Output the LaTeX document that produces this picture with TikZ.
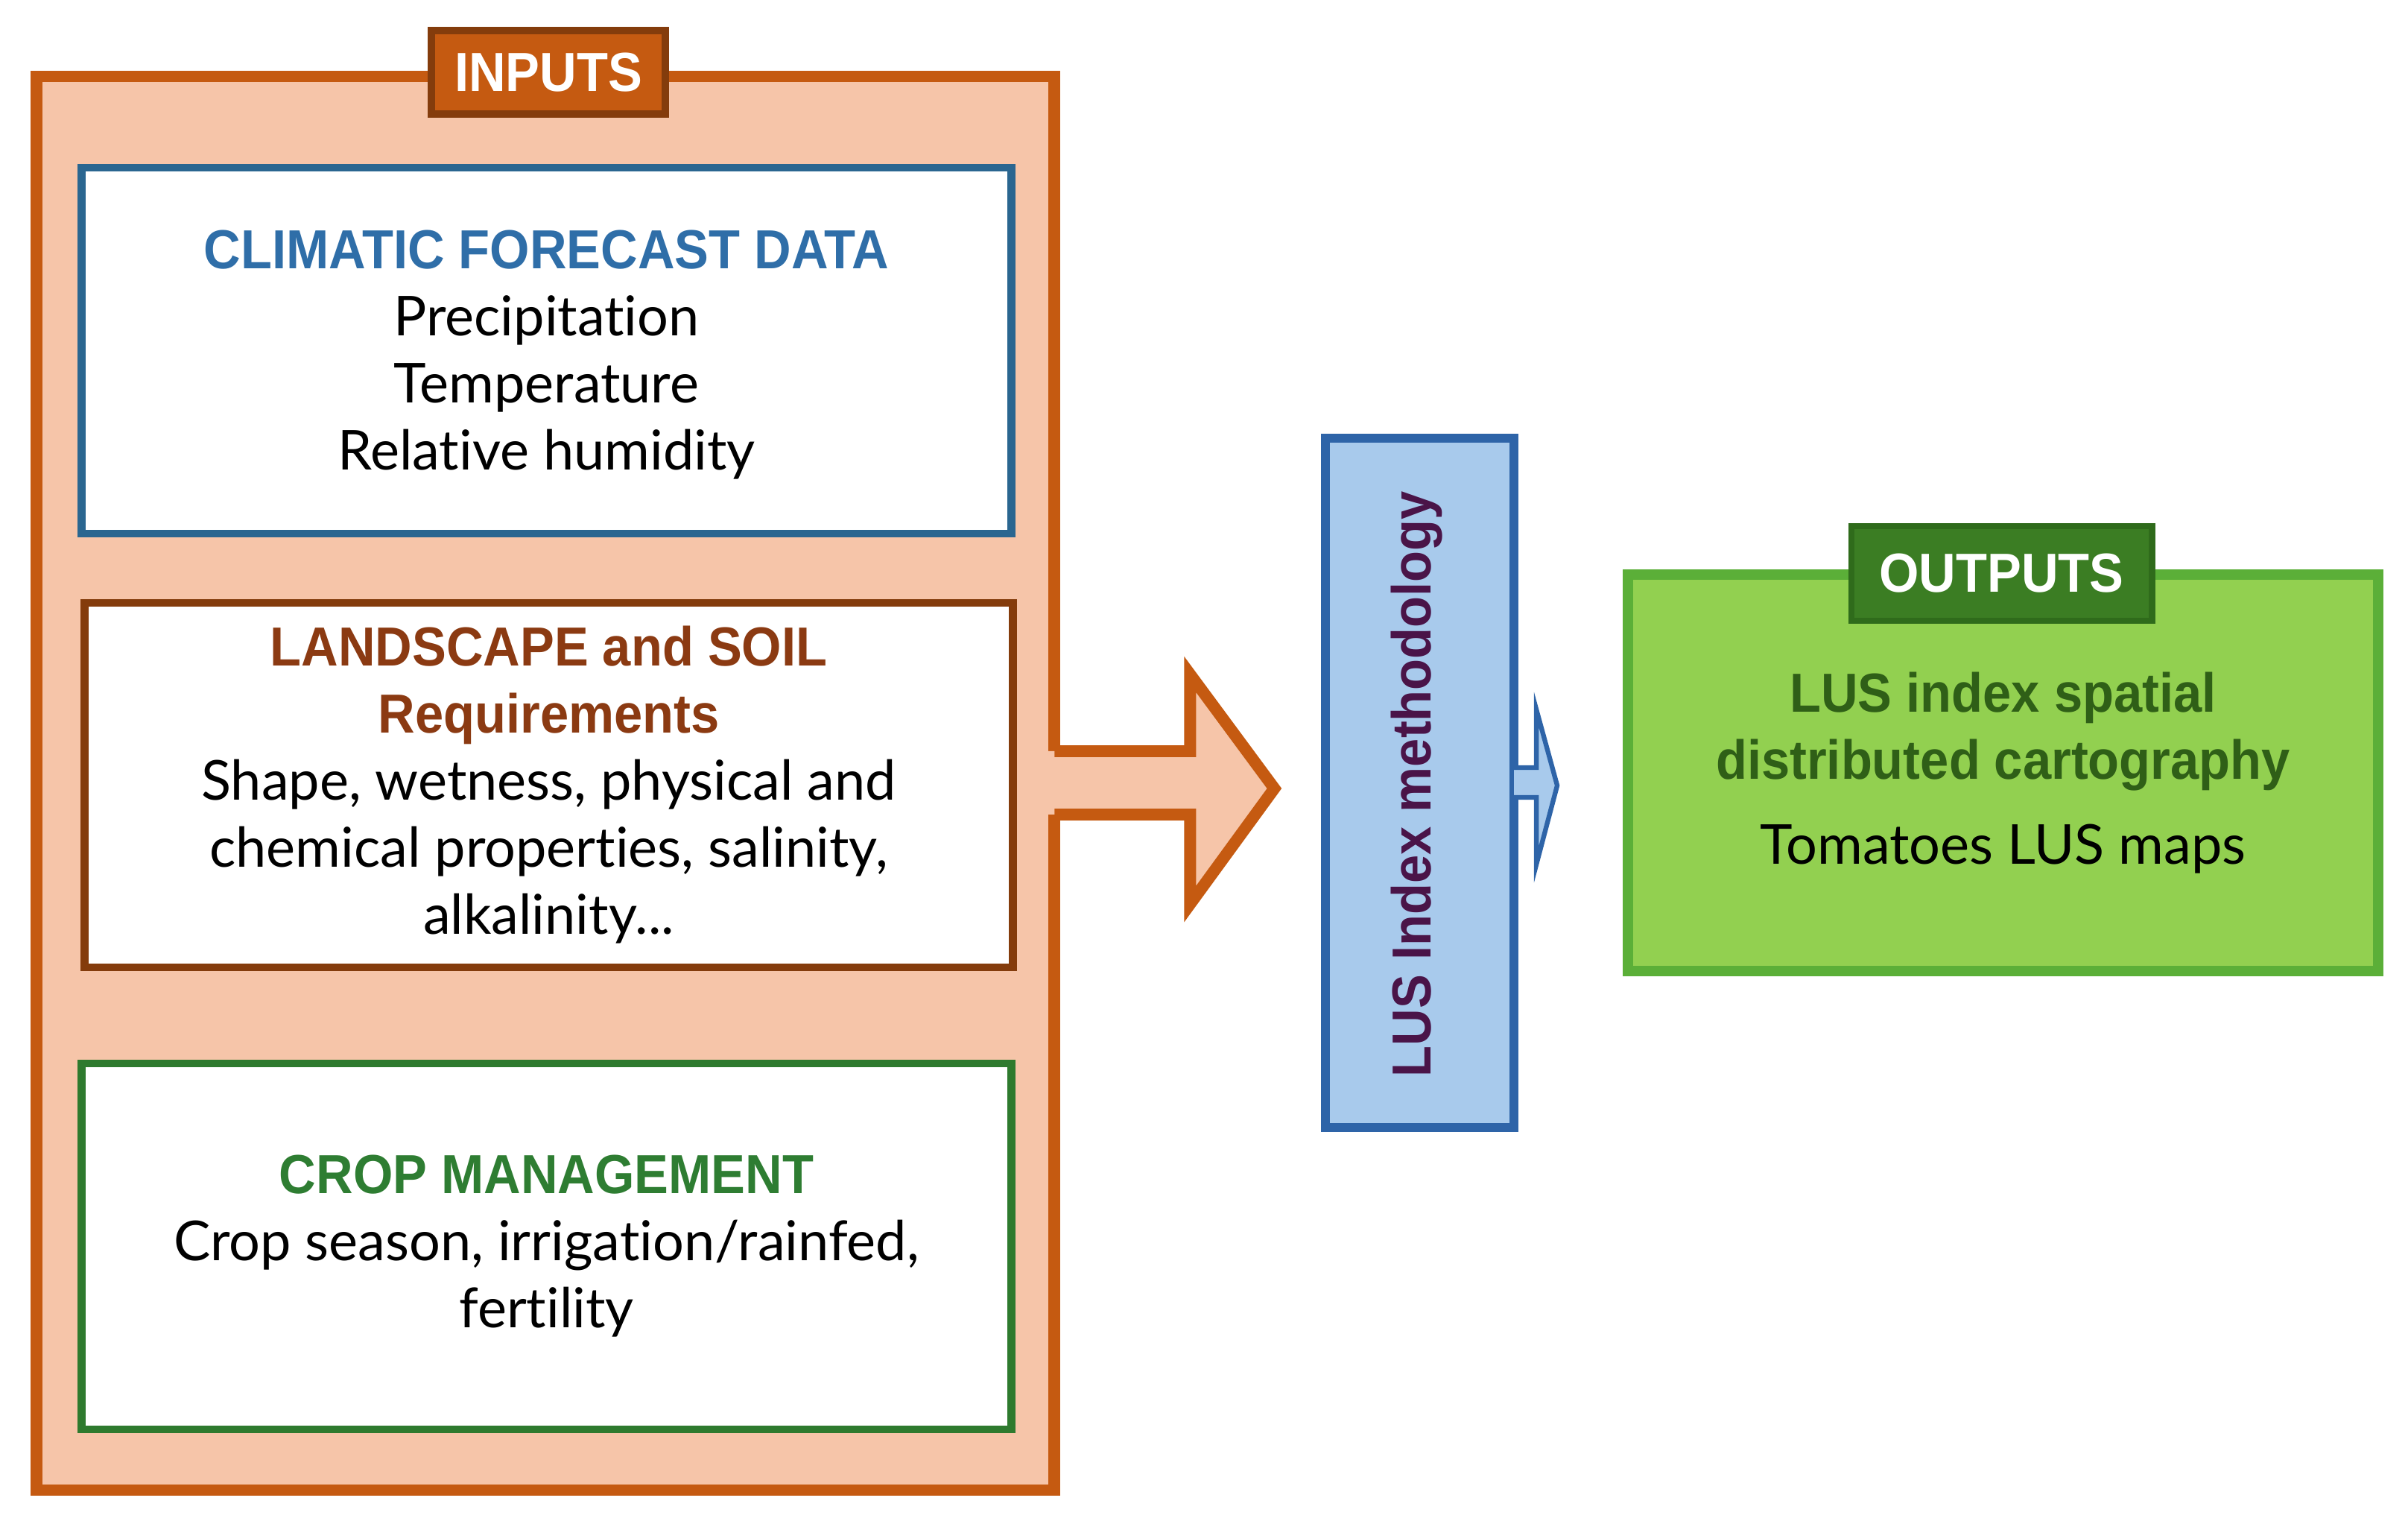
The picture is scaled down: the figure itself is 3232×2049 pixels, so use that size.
\documentclass[tikz,border=0pt]{standalone}
\usepackage{fontspec}
\setmainfont{Lato}[Ligatures=NoCommon]
\newfontfamily\tfont{Liberation Sans}[FakeStretch=0.93]
\definecolor{peach}{HTML}{F6C5A9}
\definecolor{rust}{HTML}{C55A11}
\definecolor{darkrust}{HTML}{843C0C}
\definecolor{climblue}{HTML}{2A6690}
\definecolor{climtitle}{HTML}{2F6EA8}
\definecolor{landtitle}{HTML}{8B3A12}
\definecolor{cropgreen}{HTML}{2E7A2E}
\definecolor{croptitle}{HTML}{2E7D32}
\definecolor{lusfill}{HTML}{A8CAEC}
\definecolor{lusborder}{HTML}{2E64A8}
\definecolor{lustext}{HTML}{4A1448}
\definecolor{outfill}{HTML}{92D050}
\definecolor{outborder}{HTML}{5BAF38}
\definecolor{outtab}{HTML}{3B7D23}
\definecolor{outtabborder}{HTML}{2F6B1B}
\definecolor{outtitle}{HTML}{2F5F17}
\newcommand\ttlfont{\tfont\bfseries\fontsize{21}{25.6}\selectfont}
\tikzset{
  box/.style={rectangle, inner sep=0pt, outer sep=0pt, line join=miter},
  bodytext/.style={align=center, inner sep=0pt, font=\fontsize{21}{25.6}\selectfont},
  ttl/.style={font=\ttlfont},
}
\begin{document}
\begin{tikzpicture}[x=0.01cm,y=-0.01cm]
\useasboundingbox (0,0) rectangle (3232,2049);
% inputs container
\node[box, draw=rust, fill=peach, line width=4.5pt, minimum width=13.66cm, minimum height=18.96cm] (inp) at (732,1051) {};
% big arrow (inputs -> LUS)
\fill[peach] (inp.east |- 0,1008) ++(-14,0) -- ++(196,0) -- ++(0,-103) -- ++(113,153) -- ++(-113,155) -- ++(0,-120) -- ++(-196,0) -- cycle;
\draw[rust, line width=4.5pt, line join=miter] (inp.east |- 0,1008) -- ++(182,0) coordinate (bhA) -- ++(0,-103) -- ++(113,153) coordinate (btip) -- ++(-113,155) -- ++(0,-120) -- (inp.east |- 0,1093);
% inputs tab
\node[box, draw=darkrust, fill=rust, line width=3pt, minimum width=3.14cm, minimum height=1.12cm] (inptab) at (736,97) {};
\node[ttl, text=white, inner sep=0pt] (inplbl) at (inptab.center) {INPUTS};
% climatic
\node[box, draw=climblue, fill=white, line width=3pt, minimum width=12.47cm, minimum height=4.91cm] (clim) at (733.5,470.5) {};
\node[bodytext] (climtxt) at ([yshift=-0.06cm]clim.center) {{\ttlfont\color{climtitle}CLIMATIC FORECAST DATA}\\Precipitation\\Temperature\\Relative humidity};
% landscape
\node[box, draw=darkrust, fill=white, line width=3pt, minimum width=12.45cm, minimum height=4.89cm] (land) at (736.5,1053.5) {};
\node[bodytext] (landtxt) at (land.center) {{\ttlfont\color{landtitle}LANDSCAPE and SOIL}\\{\ttlfont\color{landtitle}Requirements}\\Shape, wetness, physical and\\chemical properties, salinity,\\alkalinity...};
% crop
\node[box, draw=cropgreen, fill=white, line width=3pt, minimum width=12.47cm, minimum height=4.91cm] (crop) at (733.5,1672.5) {};
\node[bodytext] (croptxt) at (crop.center) {{\ttlfont\color{croptitle}CROP MANAGEMENT}\\Crop season, irrigation/rainfed,\\fertility};
% LUS methodology
\node[box, draw=lusborder, fill=lusfill, line width=3.4pt, minimum width=2.53cm, minimum height=9.25cm] (lus) at (1905.5,1050.5) {};
\node[ttl, text=lustext, rotate=90, inner sep=0pt] (lustxt) at (1902,1052) {LUS Index methodology};
% small arrow (LUS -> outputs)
\filldraw[draw=lusborder, fill=lusfill, line width=1.8pt, line join=miter] (lus.east |- 0,1030) -- ++(30,0) -- ++(0,-78) -- ++(28,102) coordinate (stip) -- ++(-28,106) -- ++(0,-90) -- (lus.east |- 0,1070);
% outputs
\node[box, draw=outborder, fill=outfill, line width=4pt, minimum width=10.07cm, minimum height=5.32cm] (outp) at (2688.5,1037) {};
\node[box, draw=outtabborder, fill=outtab, line width=2.5pt, minimum width=4.03cm, minimum height=1.27cm] (outtabn) at (2686.5,769.5) {};
\node[ttl, text=white, inner sep=0pt] (outlbl) at (outtabn.center) {OUTPUTS};
\node[bodytext] (outtxt) at (outp.center) {{\ttlfont\color{outtitle}LUS index spatial}\\{\ttlfont\color{outtitle}distributed cartography}\\[7pt]Tomatoes LUS maps};
\end{tikzpicture}
\end{document}
